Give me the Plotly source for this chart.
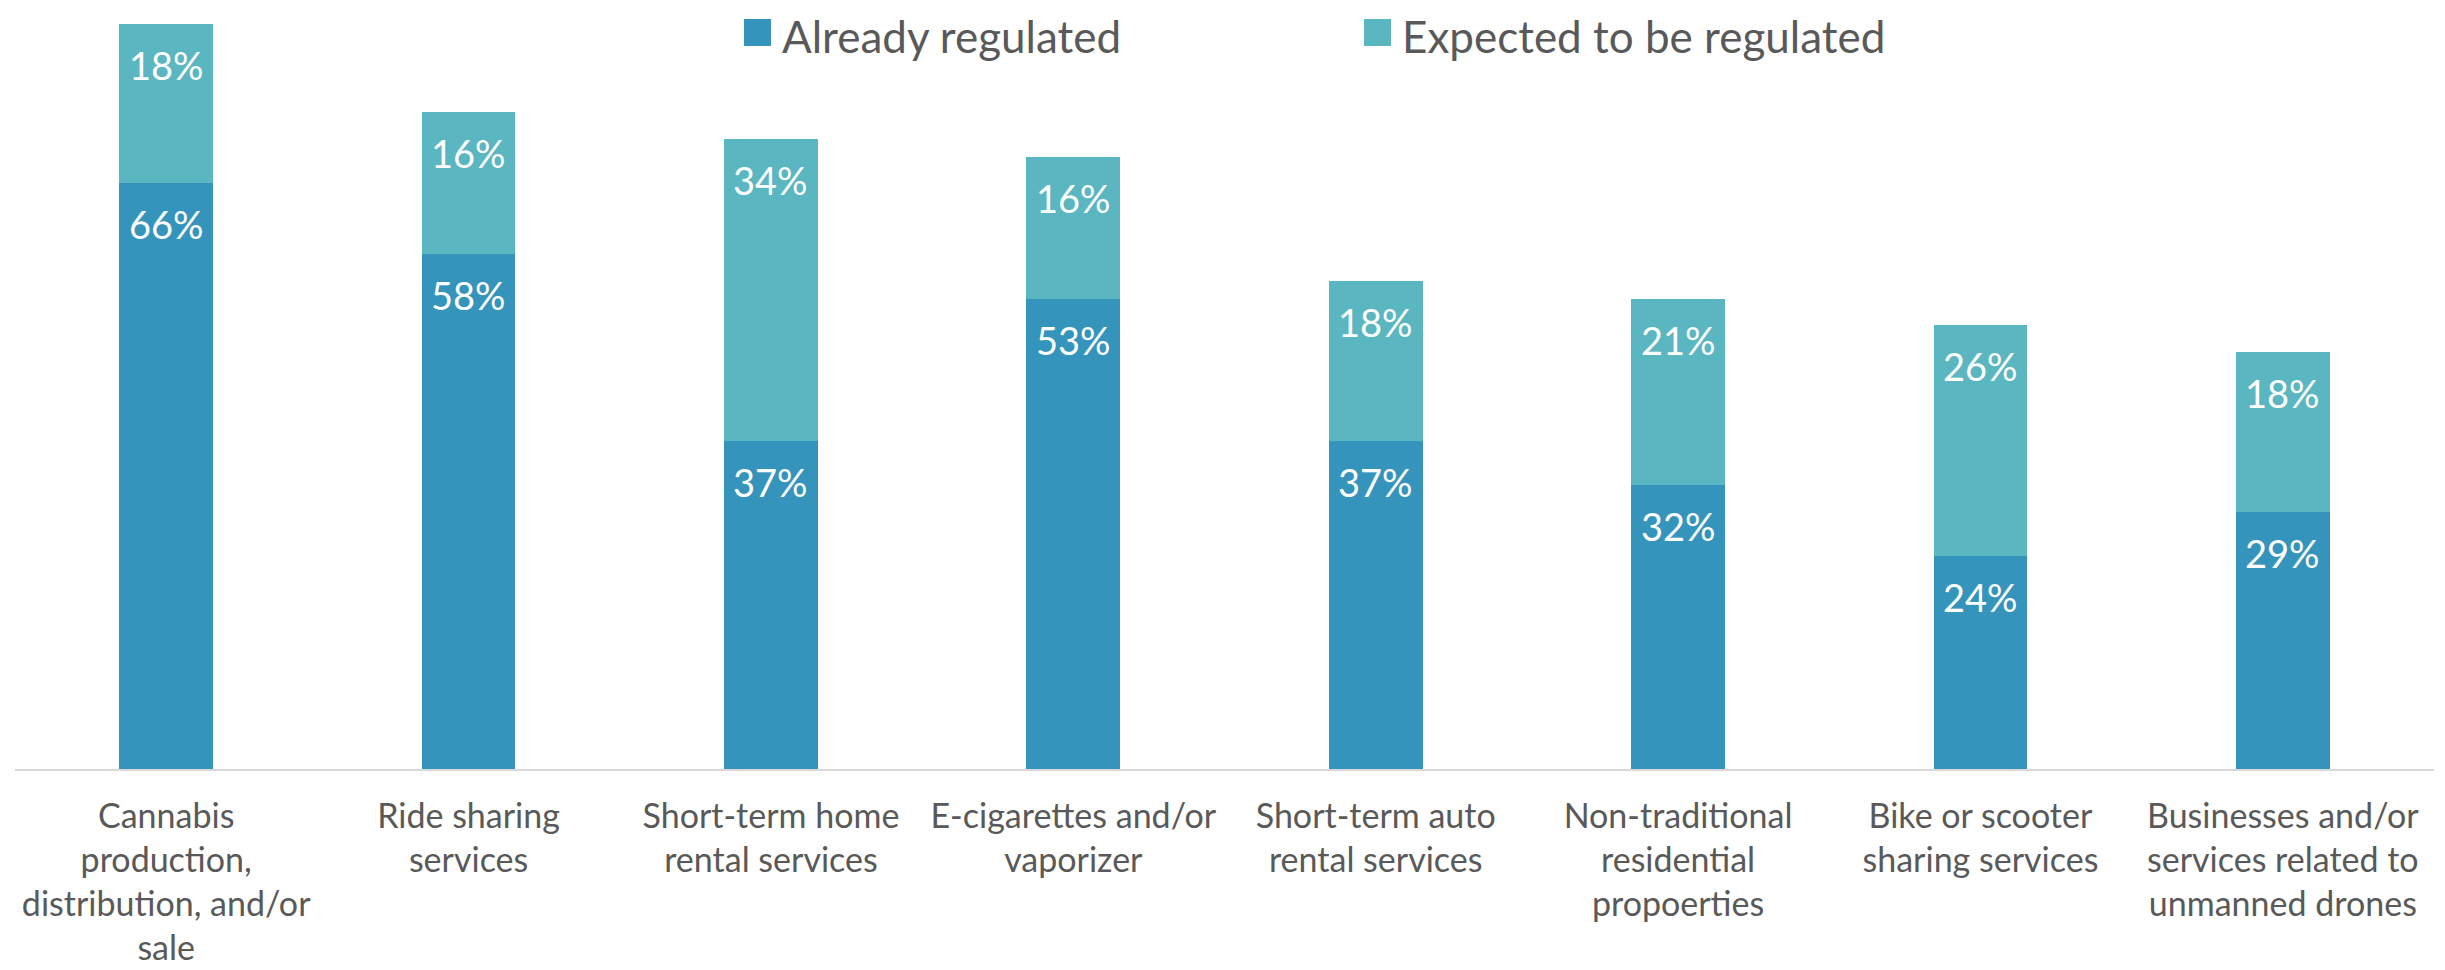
import plotly.graph_objects as go

categories = [
    "Cannabis<br>production,<br>distribution, and/or<br>sale",
    "Ride sharing<br>services",
    "Short-term home<br>rental services",
    "E-cigarettes and/or<br>vaporizer",
    "Short-term auto<br>rental services",
    "Non-traditional<br>residential<br>propoerties",
    "Bike or scooter<br>sharing services",
    "Businesses and/or<br>services related to<br>unmanned drones",
]
series_names = ["Already regulated", "Expected to be regulated"]
already = [66, 58, 37, 53, 37, 32, 24, 29]
expected = [18, 16, 34, 16, 18, 21, 26, 18]

DARK = "#3594BB"
LIGHT = "#5AB6C0"
GREY = "#595959"
FONT = "Lato"

W, H = 2445, 970
M_L, M_R, M_T, M_B = 7, 19, 12, 209


def px_x(px):
    return (px - M_L) / (W - M_L - M_R)


def px_y(py):
    return (H - M_B - py) / (H - M_T - M_B)


fig = go.Figure()
fig.add_trace(go.Bar(x=categories, y=already, name=series_names[0],
                     marker=dict(color=DARK, line=dict(width=0))))
fig.add_trace(go.Bar(x=categories, y=expected, name=series_names[1],
                     marker=dict(color=LIGHT, line=dict(width=0))))

# data labels near the top of each segment
annotations = []
for cat, a, e in zip(categories, already, expected):
    for top, val in ((a, a), (a + e, e)):
        annotations.append(dict(
            x=cat, y=top, text=f"{val}%", showarrow=False,
            yanchor="middle", yshift=-41,
            font=dict(family=FONT, size=38, color="white"),
        ))

# legend drawn by hand so the swatches can be big like the original
legend_items = [(series_names[0], DARK, 736), (series_names[1], LIGHT, 1356)]
shapes = []
for name, color, left in legend_items:
    shapes.append(dict(type="rect", xref="paper", yref="paper",
                       x0=px_x(left), x1=px_x(left + 27),
                       y0=px_y(38), y1=px_y(11),
                       fillcolor=color, line=dict(width=0)))
    annotations.append(dict(
        xref="paper", yref="paper", x=px_x(left + 36), y=px_y(28),
        xanchor="left", yanchor="middle", text=name, showarrow=False,
        font=dict(family=FONT, size=44, color=GREY),
    ))

fig.update_layout(
    barmode="stack",
    bargap=0.69,
    width=W,
    height=H,
    margin=dict(l=M_L, r=M_R, t=M_T, b=M_B),
    plot_bgcolor="white",
    paper_bgcolor="white",
    showlegend=False,
    annotations=annotations,
    shapes=shapes,
    font=dict(family=FONT, color=GREY),
)
fig.update_xaxes(
    showline=True, linecolor="#D9D9D9", linewidth=2,
    showgrid=False, ticks="", ticklabelstandoff=16, automargin=False,
    tickfont=dict(family=FONT, size=34, color=GREY),
)
fig.update_yaxes(visible=False, range=[0, 84.4])

fig.write_html("out.html")
